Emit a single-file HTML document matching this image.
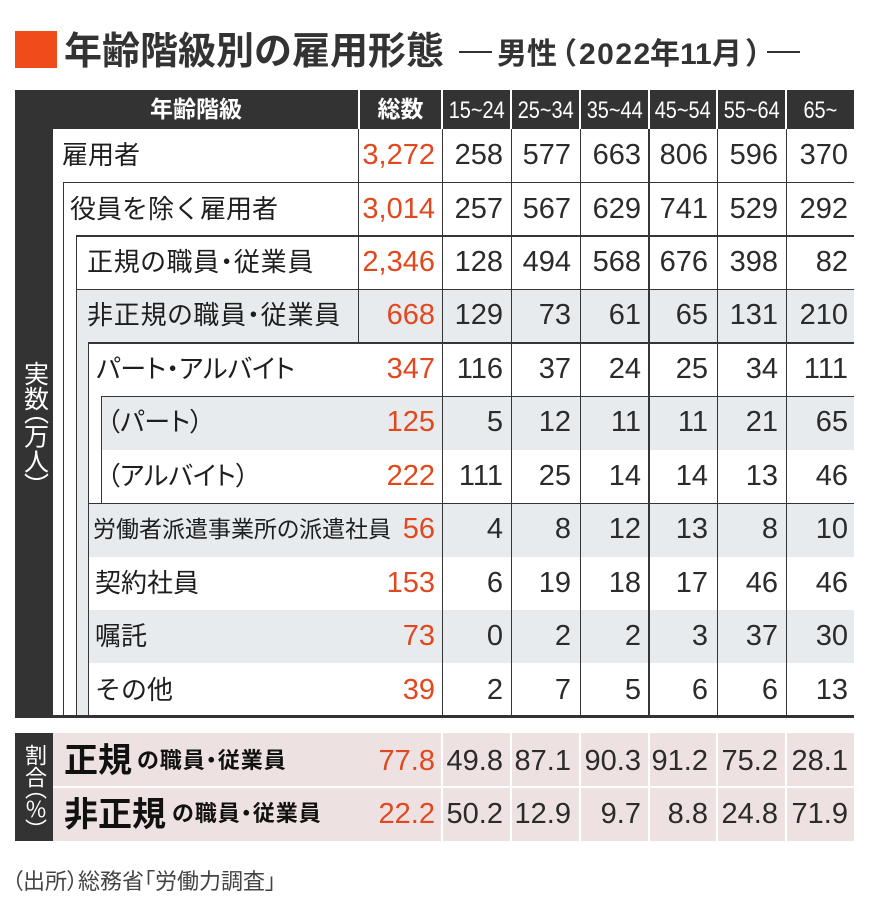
<!DOCTYPE html>
<html><head><meta charset="utf-8">
<style>
*{margin:0;padding:0;box-sizing:border-box}
body{width:870px;height:915px;background:#fff;position:relative;overflow:hidden;font-family:"Liberation Sans","Noto Sans CJK JP",sans-serif;color:#222}
.a{position:absolute}
.h{position:absolute;background:#363636;height:1.5px}
.v{position:absolute;background:#363636;width:1.5px}
.wv{position:absolute;background:#fff;width:2px}
.g{position:absolute;background:#e8ebed}
.lb{position:absolute;height:53.45px;line-height:53.45px;font-size:26px;white-space:nowrap;color:#1e1e1e}
.p{font-feature-settings:"palt"}
.n{position:absolute;height:53.45px;line-height:53.45px;font-size:29px;text-align:right;white-space:nowrap;color:#2b2b2b;width:90px}
.hd{position:absolute;top:90px;height:39px;line-height:39px;color:#fff;text-align:center;white-space:nowrap}
.ag{display:inline-block;font-size:24px;transform:scaleX(0.83);transform-origin:center;position:relative;top:1px}
.pn{position:absolute;height:53.5px;line-height:53.5px;font-size:29px;text-align:right;white-space:nowrap;color:#2b2b2b;width:90px}
.n.o,.pn.o{color:#e2481f}
</style></head><body>

<!-- Title -->
<div class="a" style="left:15px;top:31px;width:42px;height:37px;background:#f04b1b"></div>
<div class="a" style="left:64px;top:33px;font-size:38px;line-height:38px;font-weight:bold;color:#333;white-space:nowrap">年齢階級別の雇用形態</div>
<div class="a" style="left:459px;top:51px;width:33px;height:2px;background:#333"></div>
<div class="a" style="left:497px;top:40px;font-size:30px;line-height:30px;font-weight:bold;color:#333;white-space:nowrap">男性</div>
<div class="a" style="left:547px;top:40px;font-size:30px;line-height:30px;font-weight:bold;color:#333">（</div>
<div class="a" style="left:579px;top:40px;font-size:30px;line-height:30px;font-weight:bold;color:#333;letter-spacing:1.5px">2022</div>
<div class="a" style="left:650px;top:40px;font-size:30px;line-height:30px;font-weight:bold;color:#333">年</div>
<div class="a" style="left:680px;top:40px;font-size:30px;line-height:30px;font-weight:bold;color:#333">11</div>
<div class="a" style="left:712px;top:40px;font-size:30px;line-height:30px;font-weight:bold;color:#333">月</div>
<div class="a" style="left:745px;top:40px;font-size:30px;line-height:30px;font-weight:bold;color:#333">）</div>
<div class="a" style="left:767px;top:51px;width:33px;height:2px;background:#333"></div>

<!-- Header -->
<div class="a" style="left:15px;top:90px;width:839px;height:39px;background:#333"></div>
<div class="wv" style="left:357.5px;top:90px;height:39px"></div>
<div class="wv" style="left:441px;top:90px;height:39px"></div>
<div class="wv" style="left:510px;top:90px;height:39px"></div>
<div class="wv" style="left:579px;top:90px;height:39px"></div>
<div class="wv" style="left:647.5px;top:90px;height:39px"></div>
<div class="wv" style="left:716px;top:90px;height:39px"></div>
<div class="wv" style="left:785px;top:90px;height:39px"></div>
<div class="hd" style="left:100px;width:192px;font-size:23px;font-weight:bold">年齢階級</div>
<div class="hd" style="left:359px;width:83px;font-size:23px;font-weight:bold">総数</div>
<div class="hd" style="left:443px;width:68px"><span class="ag">15~24</span></div>
<div class="hd" style="left:512px;width:68px"><span class="ag">25~34</span></div>
<div class="hd" style="left:581px;width:67px"><span class="ag">35~44</span></div>
<div class="hd" style="left:649px;width:68px"><span class="ag">45~54</span></div>
<div class="hd" style="left:718px;width:68px"><span class="ag">55~64</span></div>
<div class="hd" style="left:787px;width:67px"><span class="ag">65~</span></div>

<!-- Sidebar -->
<div class="a" style="left:15px;top:129px;width:38px;height:589px;background:#333"></div>
<div class="a" style="left:15px;top:129px;width:38px;height:588px;display:flex;align-items:center;justify-content:center">
  <span style="writing-mode:vertical-rl;font-size:25px;color:#fff;font-feature-settings:'vpal';line-height:25px">実数（万人）</span>
</div>

<!-- gray backgrounds -->
<div class="g" style="left:76px;top:289.4px;width:778px;height:53.4px"></div>
<div class="g" style="left:76px;top:342.8px;width:12px;height:374px"></div>
<div class="g" style="left:101px;top:396.3px;width:753px;height:53.4px"></div>
<div class="g" style="left:88px;top:503.2px;width:766px;height:53.4px"></div>
<div class="g" style="left:88px;top:610.1px;width:766px;height:53.4px"></div>

<!-- horizontal lines -->
<div class="h" style="left:63px;top:181.75px;width:791px"></div>
<div class="h" style="left:76px;top:235.2px;width:778px"></div>
<div class="h" style="left:76px;top:288.7px;width:778px"></div>
<div class="h" style="left:88px;top:342px;width:766px"></div>
<div class="h" style="left:101px;top:395.5px;width:753px"></div>
<div class="h" style="left:88px;top:502.5px;width:766px"></div>
<div class="a" style="left:15px;top:714.5px;width:839px;height:3.5px;background:#333"></div>

<!-- vertical lines -->
<div class="v" style="left:62.5px;top:182px;height:534px"></div>
<div class="v" style="left:75.5px;top:235.5px;height:480px"></div>
<div class="v" style="left:87.5px;top:342.5px;height:373px"></div>
<div class="v" style="left:100.5px;top:396px;height:107px"></div>
<div class="v" style="left:357.5px;top:129px;height:214px"></div>
<div class="v" style="left:441.5px;top:129px;height:587px"></div>
<div class="v" style="left:510.5px;top:129px;height:587px"></div>
<div class="v" style="left:579.5px;top:129px;height:587px"></div>
<div class="v" style="left:648px;top:129px;height:587px"></div>
<div class="v" style="left:716.5px;top:129px;height:587px"></div>
<div class="v" style="left:785.5px;top:129px;height:587px"></div>

<!-- labels -->
<div class="lb" style="left:62px;top:129px">雇用者</div>
<div class="lb" style="left:70px;top:182.5px">役員を除く雇用者</div>
<div class="lb p" style="left:87px;top:235.9px;letter-spacing:0.8px">正規の職員・従業員</div>
<div class="lb p" style="left:87px;top:289.4px;letter-spacing:0.8px">非正規の職員・従業員</div>
<div class="lb p" style="left:96px;top:342.8px">パート・アルバイト</div>
<div class="lb p" style="left:107px;top:396.3px">（パート）</div>
<div class="lb p" style="left:107px;top:449.7px">（アルバイト）</div>
<div class="lb p" style="left:93px;top:503.2px;font-size:23px">労働者派遣事業所の派遣社員</div>
<div class="lb" style="left:95px;top:556.6px">契約社員</div>
<div class="lb" style="left:95px;top:610.1px">嘱託</div>
<div class="lb" style="left:95px;top:663.5px">その他</div>

<!-- totals -->
<div class="n o" style="left:345px;top:129px">3,272</div>
<div class="n o" style="left:345px;top:182.5px">3,014</div>
<div class="n o" style="left:345px;top:235.9px">2,346</div>
<div class="n o" style="left:345px;top:289.4px">668</div>
<div class="n o" style="left:345px;top:342.8px">347</div>
<div class="n o" style="left:345px;top:396.3px">125</div>
<div class="n o" style="left:345px;top:449.7px">222</div>
<div class="n o" style="left:345px;top:503.2px">56</div>
<div class="n o" style="left:345px;top:556.6px">153</div>
<div class="n o" style="left:345px;top:610.1px">73</div>
<div class="n o" style="left:345px;top:663.5px">39</div>

<!-- data col 1 -->
<div class="n" style="left:413px;top:129px">258</div>
<div class="n" style="left:413px;top:182.5px">257</div>
<div class="n" style="left:413px;top:235.9px">128</div>
<div class="n" style="left:413px;top:289.4px">129</div>
<div class="n" style="left:413px;top:342.8px">116</div>
<div class="n" style="left:413px;top:396.3px">5</div>
<div class="n" style="left:413px;top:449.7px">111</div>
<div class="n" style="left:413px;top:503.2px">4</div>
<div class="n" style="left:413px;top:556.6px">6</div>
<div class="n" style="left:413px;top:610.1px">0</div>
<div class="n" style="left:413px;top:663.5px">2</div>
<!-- col 2 -->
<div class="n" style="left:481px;top:129px">577</div>
<div class="n" style="left:481px;top:182.5px">567</div>
<div class="n" style="left:481px;top:235.9px">494</div>
<div class="n" style="left:481px;top:289.4px">73</div>
<div class="n" style="left:481px;top:342.8px">37</div>
<div class="n" style="left:481px;top:396.3px">12</div>
<div class="n" style="left:481px;top:449.7px">25</div>
<div class="n" style="left:481px;top:503.2px">8</div>
<div class="n" style="left:481px;top:556.6px">19</div>
<div class="n" style="left:481px;top:610.1px">2</div>
<div class="n" style="left:481px;top:663.5px">7</div>
<!-- col 3 -->
<div class="n" style="left:551px;top:129px">663</div>
<div class="n" style="left:551px;top:182.5px">629</div>
<div class="n" style="left:551px;top:235.9px">568</div>
<div class="n" style="left:551px;top:289.4px">61</div>
<div class="n" style="left:551px;top:342.8px">24</div>
<div class="n" style="left:551px;top:396.3px">11</div>
<div class="n" style="left:551px;top:449.7px">14</div>
<div class="n" style="left:551px;top:503.2px">12</div>
<div class="n" style="left:551px;top:556.6px">18</div>
<div class="n" style="left:551px;top:610.1px">2</div>
<div class="n" style="left:551px;top:663.5px">5</div>
<!-- col 4 -->
<div class="n" style="left:618px;top:129px">806</div>
<div class="n" style="left:618px;top:182.5px">741</div>
<div class="n" style="left:618px;top:235.9px">676</div>
<div class="n" style="left:618px;top:289.4px">65</div>
<div class="n" style="left:618px;top:342.8px">25</div>
<div class="n" style="left:618px;top:396.3px">11</div>
<div class="n" style="left:618px;top:449.7px">14</div>
<div class="n" style="left:618px;top:503.2px">13</div>
<div class="n" style="left:618px;top:556.6px">17</div>
<div class="n" style="left:618px;top:610.1px">3</div>
<div class="n" style="left:618px;top:663.5px">6</div>
<!-- col 5 -->
<div class="n" style="left:688px;top:129px">596</div>
<div class="n" style="left:688px;top:182.5px">529</div>
<div class="n" style="left:688px;top:235.9px">398</div>
<div class="n" style="left:688px;top:289.4px">131</div>
<div class="n" style="left:688px;top:342.8px">34</div>
<div class="n" style="left:688px;top:396.3px">21</div>
<div class="n" style="left:688px;top:449.7px">13</div>
<div class="n" style="left:688px;top:503.2px">8</div>
<div class="n" style="left:688px;top:556.6px">46</div>
<div class="n" style="left:688px;top:610.1px">37</div>
<div class="n" style="left:688px;top:663.5px">6</div>
<!-- col 6 -->
<div class="n" style="left:758px;top:129px">370</div>
<div class="n" style="left:758px;top:182.5px">292</div>
<div class="n" style="left:758px;top:235.9px">82</div>
<div class="n" style="left:758px;top:289.4px">210</div>
<div class="n" style="left:758px;top:342.8px">111</div>
<div class="n" style="left:758px;top:396.3px">65</div>
<div class="n" style="left:758px;top:449.7px">46</div>
<div class="n" style="left:758px;top:503.2px">10</div>
<div class="n" style="left:758px;top:556.6px">46</div>
<div class="n" style="left:758px;top:610.1px">30</div>
<div class="n" style="left:758px;top:663.5px">13</div>

<!-- Percentage section -->
<div class="a" style="left:53px;top:733px;width:801px;height:108px;background:#ede1e1"></div>
<div class="a" style="left:15px;top:733px;width:38px;height:108px;background:#333"></div>
<div class="a" style="left:53px;top:786px;width:801px;height:1.5px;background:#fff"></div>
<div class="wv" style="left:441px;top:733px;height:108px"></div>
<div class="wv" style="left:510px;top:733px;height:108px"></div>
<div class="wv" style="left:579px;top:733px;height:108px"></div>
<div class="wv" style="left:647.5px;top:733px;height:108px"></div>
<div class="wv" style="left:716px;top:733px;height:108px"></div>
<div class="wv" style="left:785px;top:733px;height:108px"></div>
<div class="a" style="left:15px;top:733px;width:38px;height:108px;display:flex;align-items:center;justify-content:center">
  <span style="writing-mode:vertical-rl;font-size:22px;color:#fff;font-feature-settings:'vpal';line-height:22px">割合（％）</span>
</div>

<div class="a" style="left:64px;top:744px;font-size:34px;line-height:34px;font-weight:bold;color:#111;white-space:nowrap">正規</div>
<div class="a p" style="left:137px;top:750px;font-size:22px;line-height:22px;font-weight:bold;color:#111;white-space:nowrap;letter-spacing:1px">の職員・従業員</div>
<div class="a" style="left:64px;top:798px;font-size:34px;line-height:34px;font-weight:bold;color:#111;white-space:nowrap">非正規</div>
<div class="a p" style="left:172px;top:803px;font-size:22px;line-height:22px;font-weight:bold;color:#111;white-space:nowrap;letter-spacing:1px">の職員・従業員</div>

<div class="pn o" style="left:345px;top:735px">77.8</div>
<div class="pn" style="left:413px;top:735px">49.8</div>
<div class="pn" style="left:481px;top:735px">87.1</div>
<div class="pn" style="left:551px;top:735px">90.3</div>
<div class="pn" style="left:618px;top:735px">91.2</div>
<div class="pn" style="left:688px;top:735px">75.2</div>
<div class="pn" style="left:758px;top:735px">28.1</div>

<div class="pn o" style="left:345px;top:788px">22.2</div>
<div class="pn" style="left:413px;top:788px">50.2</div>
<div class="pn" style="left:481px;top:788px">12.9</div>
<div class="pn" style="left:551px;top:788px">9.7</div>
<div class="pn" style="left:618px;top:788px">8.8</div>
<div class="pn" style="left:688px;top:788px">24.8</div>
<div class="pn" style="left:758px;top:788px">71.9</div>

<!-- Footer -->
<div class="a p" style="left:12px;top:871px;font-size:22px;line-height:22px;color:#444;white-space:nowrap">（出所）総務省「労働力調査」</div>

</body></html>
